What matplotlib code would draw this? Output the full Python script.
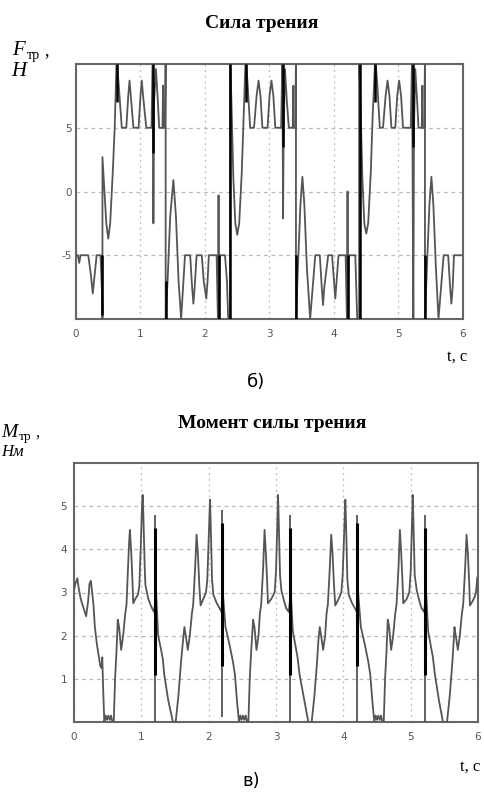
import numpy as np
import matplotlib
matplotlib.use("Agg")
from matplotlib import pyplot as plt

plt.rcParams["axes.unicode_minus"] = False

W, H = 485, 792

# ---- friction force F, N ----
f_t = [0.00, 0.03, 0.05, 0.07, 0.19, 0.23, 0.26, 0.29, 0.32, 0.38, 0.41, 0.41, 0.41,
       0.43, 0.47, 0.50, 0.53, 0.57, 0.60, 0.63, 0.66, 0.71, 0.78, 0.81, 0.83, 0.85,
       0.89, 0.97, 1.00, 1.02, 1.04, 1.09, 1.17, 1.19, 1.20, 1.21, 1.24, 1.27, 1.29,
       1.34, 1.35, 1.35, 1.38, 1.39, 1.39, 1.42, 1.46, 1.51, 1.55, 1.59, 1.63, 1.66,
       1.69, 1.77, 1.80, 1.82, 1.84, 1.87, 1.95, 1.98, 2.02, 2.04, 2.06, 2.18, 2.20,
       2.21, 2.22, 2.23, 2.31, 2.34, 2.36, 2.39, 2.39,
       2.41, 2.44, 2.47, 2.50, 2.53, 2.57, 2.60, 2.63, 2.66, 2.70, 2.76, 2.80, 2.83,
       2.86, 2.89, 2.97, 3.00, 3.03, 3.06, 3.09, 3.18, 3.20, 3.21, 3.22, 3.24, 3.27,
       3.30, 3.36, 3.37, 3.37, 3.40, 3.41, 3.41, 3.44, 3.48, 3.51, 3.54, 3.58, 3.63,
       3.67, 3.71, 3.78, 3.81, 3.83, 3.85, 3.91, 3.97, 4.00, 4.02, 4.04, 4.07, 4.18,
       4.20, 4.21, 4.22, 4.23, 4.33, 4.36, 4.39, 4.39,
       4.41, 4.44, 4.47, 4.50, 4.53, 4.57, 4.60, 4.64, 4.67, 4.71, 4.76, 4.80, 4.83,
       4.86, 4.89, 4.95, 4.98, 5.01, 5.04, 5.07, 5.19, 5.21, 5.23, 5.24, 5.26, 5.29,
       5.31, 5.36, 5.37, 5.37, 5.40, 5.41, 5.41, 5.44, 5.48, 5.51, 5.54, 5.58, 5.62,
       5.66, 5.70, 5.77, 5.80, 5.82, 5.84, 5.86, 5.98]
f_val = [-5.0, -5.0, -5.6, -5.0, -5.0, -6.5, -8.0, -6.5, -5.0, -5.0, -8.9, -10.0, 2.7,
         1.0, -2.5, -3.7, -2.5, 1.5, 5.0, 10.5, 8.5, 5.0, 5.0, 7.5, 8.7, 7.5,
         5.0, 5.0, 7.5, 8.7, 7.5, 5.0, 5.0, 10.5, -2.5, 7.0, 9.6, 7.0, 5.0,
         5.0, 8.3, 5.0, 5.0, 10.5, -10.0, -7.0, -2.0, 0.9, -2.0, -7.0, -10.0, -7.5,
         -5.0, -5.0, -7.5, -8.8, -7.5, -5.0, -5.0, -7.0, -8.4, -7.0, -5.0, -5.0, -10.0,
         -0.3, -10.0, -5.0, -5.0, -7.0, -10.0, -10.0, 10.5,
         7.0, 1.0, -2.5, -3.4, -2.5, 1.5, 6.0, 10.5, 8.5, 5.0, 5.0, 7.5, 8.7,
         7.5, 5.0, 5.0, 7.5, 8.7, 7.5, 5.0, 5.0, 10.5, -2.1, 5.0, 9.6, 7.0,
         5.0, 5.0, 8.3, 5.0, 5.0, 10.5, -10.0, -6.0, -1.0, 1.15, -1.0, -6.0, -10.0,
         -7.5, -5.0, -5.0, -7.5, -8.9, -7.5, -5.0, -5.0, -7.0, -8.4, -7.0, -5.0, -5.0,
         -10.0, 0.0, -10.0, -5.0, -5.0, -10.0, -10.0, 10.5,
         7.0, 1.0, -2.5, -3.3, -2.5, 1.5, 6.0, 10.5, 8.5, 5.0, 5.0, 7.5, 8.7,
         7.5, 5.0, 5.0, 7.5, 8.7, 7.5, 5.0, 5.0, 10.5, -10.0, 5.0, 9.6, 7.0,
         5.0, 5.0, 8.3, 5.0, 5.0, 10.5, -10.0, -6.0, -1.0, 1.15, -1.0, -6.0, -10.0,
         -7.5, -5.0, -5.0, -7.5, -8.8, -7.5, -5.0, -5.0]
# dark "chatter" strokes on the force curve
f_chat_t = [0.40, 0.63, 1.20, 1.39, 2.21, 2.39, 2.63, 3.21, 3.41, 4.21, 4.40, 4.64, 5.23, 5.41]
f_chat_lo = [-9.7, 7.0, 3.0, -10.0, -10.0, -10.0, 7.0, 3.5, -10.0, -10.0, -10.0, 7.0, 3.5, -10.0]
f_chat_hi = [-5.0, 10.0, 10.0, -7.0, -5.0, 10.0, 10.0, 10.0, -5.0, -5.0, 10.0, 10.0, 10.0, -5.0]

# ---- friction moment M, N*m ----
m_t = [0.00, 0.02, 0.05, 0.07, 0.10, 0.15, 0.18, 0.21, 0.23, 0.25, 0.27, 0.29, 0.31,
       0.34, 0.37, 0.39, 0.41, 0.42, 0.43, 0.45, 0.47, 0.49, 0.51, 0.53, 0.55, 0.57,
       0.59, 0.61, 0.63, 0.65, 0.67, 0.70, 0.73, 0.76, 0.78, 0.80, 0.82, 0.83, 0.85,
       0.87, 0.88, 0.91, 0.95, 0.97, 0.99, 1.01, 1.02, 1.03, 1.05, 1.06, 1.10, 1.14,
       1.17, 1.19, 1.22, 1.25, 1.29, 1.32, 1.34, 1.40, 1.47, 1.51, 1.55, 1.59, 1.62,
       1.64, 1.66, 1.69, 1.72, 1.75, 1.77, 1.80, 1.82, 1.84, 1.86, 1.88, 1.92, 1.96,
       1.98, 2.00, 2.02, 2.03, 2.05, 2.07, 2.12, 2.16, 2.19, 2.21, 2.25, 2.31, 2.34,
       2.36, 2.39, 2.42, 2.45, 2.47, 2.49, 2.51, 2.53, 2.55, 2.57, 2.59, 2.61, 2.63,
       2.66, 2.68, 2.71, 2.74, 2.76, 2.78, 2.81, 2.83, 2.85, 2.87, 2.88, 2.93, 2.98,
       3.00, 3.02, 3.03, 3.04, 3.06, 3.08, 3.12, 3.15, 3.19, 3.22, 3.25, 3.29, 3.32,
       3.35, 3.42, 3.48, 3.53, 3.57, 3.61, 3.63, 3.65, 3.67, 3.70, 3.73, 3.75, 3.77,
       3.80, 3.82, 3.84, 3.86, 3.88, 3.93, 3.97, 3.99, 4.01, 4.03, 4.04, 4.06, 4.08,
       4.13, 4.17, 4.20, 4.22, 4.26, 4.32, 4.35, 4.37, 4.40, 4.43, 4.46, 4.48, 4.50,
       4.52, 4.54, 4.56, 4.58, 4.60, 4.62, 4.64, 4.66, 4.68, 4.71, 4.74, 4.77, 4.79,
       4.82, 4.84, 4.86, 4.88, 4.89, 4.94, 4.98, 5.00, 5.02, 5.03, 5.04, 5.06, 5.09,
       5.13, 5.16, 5.20, 5.23, 5.26, 5.30, 5.33, 5.36, 5.42, 5.48, 5.54, 5.58, 5.62,
       5.64, 5.65, 5.67, 5.70, 5.73, 5.76, 5.78, 5.81, 5.83, 5.85, 5.87, 5.88, 5.92,
       5.95, 5.97, 5.99]
m_val = [3.05, 3.2, 3.33, 3.1, 2.85, 2.6, 2.45, 2.8, 3.2, 3.27, 3.0, 2.7, 2.2,
         1.8, 1.5, 1.3, 1.25, 1.5, 0.9, 0.0, 0.15, 0.05, 0.15, 0.05, 0.15, 0.0,
         0.0, 1.0, 1.6, 2.37, 2.2, 1.67, 2.0, 2.5, 2.72, 3.5, 4.2, 4.45, 3.95,
         3.2, 2.75, 2.85, 2.95, 3.15, 4.0, 5.0, 5.26, 4.8, 3.6, 3.18, 2.87, 2.7,
         2.6, 2.55, 3.0, 2.0, 1.7, 1.45, 1.1, 0.5, 0.0, 0.0, 0.6, 1.4, 1.9,
         2.2, 2.0, 1.67, 2.0, 2.5, 2.72, 3.6, 4.34, 3.9, 3.2, 2.7, 2.85, 3.0,
         3.3, 4.2, 5.15, 4.6, 3.3, 2.95, 2.75, 2.64, 2.55, 3.0, 2.2, 1.79, 1.55,
         1.4, 1.1, 0.5, 0.0, 0.15, 0.05, 0.15, 0.05, 0.15, 0.0, 0.0, 1.0, 1.6,
         2.37, 2.2, 1.67, 2.0, 2.5, 2.72, 3.6, 4.45, 3.9, 3.2, 2.75, 2.85, 3.0,
         3.5, 4.6, 5.26, 4.7, 3.4, 3.05, 2.8, 2.64, 2.55, 3.0, 2.1, 1.75, 1.5,
         1.1, 0.5, 0.0, 0.0, 0.6, 1.4, 1.9, 2.2, 2.0, 1.67, 2.0, 2.5, 2.72,
         3.6, 4.34, 3.9, 3.2, 2.7, 2.85, 3.0, 3.4, 4.3, 5.15, 4.6, 3.3, 2.95,
         2.75, 2.64, 2.55, 3.0, 2.2, 1.79, 1.55, 1.4, 1.1, 0.5, 0.0, 0.15, 0.05,
         0.15, 0.05, 0.15, 0.0, 0.0, 1.0, 1.6, 2.37, 2.2, 1.67, 2.0, 2.5, 2.72,
         3.6, 4.45, 3.9, 3.2, 2.75, 2.85, 3.0, 3.5, 4.6, 5.26, 4.7, 3.4, 3.05,
         2.8, 2.64, 2.55, 3.0, 2.1, 1.75, 1.5, 1.1, 0.5, 0.0, 0.0, 0.6, 1.4,
         1.9, 2.2, 2.0, 1.67, 2.0, 2.5, 2.72, 3.6, 4.34, 3.9, 3.2, 2.7, 2.8,
         2.9, 3.0, 3.35]
# thin full drops and thick black chatter on the moment curve
m_drop_t = [1.21, 2.20, 3.21, 4.21, 5.22]
m_drop_lo = [0.0, 0.12, 0.0, 0.0, 0.0]
m_drop_hi = [4.8, 4.9, 4.8, 4.8, 4.8]
m_chat_lo = [1.1, 1.3, 1.1, 1.3, 1.1]
m_chat_hi = [4.5, 4.6, 4.5, 4.6, 4.5]

x_ticks = [0, 1, 2, 3, 4, 5, 6]
f_ticks = [-5, 0, 5]
m_ticks = [1, 2, 3, 4, 5]

line_c = "#555555"
grid_c = "#bbbbbb"
serif = "Liberation Serif"


def fx(px):
    return px / W


def fy(py):
    return 1 - py / H


def style_axes(ax, yticks, ypad, xpad):
    ax.set_xlim(0, 6)
    ax.set_xticks(x_ticks)
    ax.set_yticks(yticks)
    ax.tick_params(length=0, labelsize=7.5, labelcolor="#555555")
    ax.tick_params(axis="y", pad=ypad)
    ax.tick_params(axis="x", pad=xpad)
    ax.xaxis.grid(True, color=grid_c, linestyle=(0, (1.5, 3)), linewidth=0.9)
    ax.yaxis.grid(True, color=grid_c, linestyle=(0, (3, 3)), linewidth=0.9)
    ax.set_axisbelow(True)
    for s in ax.spines.values():
        s.set_color("#666666")
        s.set_linewidth(1.5)


fig = plt.figure(figsize=(4.85, 7.92), dpi=100)

# top: force
ax1 = fig.add_axes([fx(76), fy(319), fx(463) - fx(76), fy(64) - fy(319)])
ax1.plot(f_t, f_val, color=line_c, linewidth=1.3, zorder=3)
ax1.vlines(f_chat_t, f_chat_lo, f_chat_hi, color="black", linewidth=1.8, zorder=4)
ax1.set_ylim(-10, 10)
style_axes(ax1, f_ticks, 3, 7)

# bottom: moment
ax2 = fig.add_axes([fx(74), fy(722), fx(478) - fx(74), fy(463) - fy(722)])
ax2.plot(m_t, m_val, color=line_c, linewidth=1.3, zorder=3)
ax2.vlines(m_drop_t, m_drop_lo, m_drop_hi, color=line_c, linewidth=1.3, zorder=3)
ax2.vlines(m_drop_t, m_chat_lo, m_chat_hi, color="black", linewidth=2.2, zorder=4)
ax2.set_ylim(0, 6)
style_axes(ax2, m_ticks, 5, 7)

# titles and labels
fig.text(fx(262), fy(23), "Сила трения", family=serif, weight="bold",
         size=14, ha="center", va="center")
fig.text(fx(272), fy(423), "Момент силы трения", family=serif, weight="bold",
         size=14, ha="center", va="center")

fig.text(fx(12), fy(55), "F", family=serif, style="italic", size=15, va="baseline")
fig.text(fx(27), fy(59), "тр", family=serif, size=10, va="baseline")
fig.text(fx(44), fy(55), ",", family=serif, size=13, va="baseline")
fig.text(fx(11), fy(76), "Н", family=serif, style="italic", size=15, va="baseline")

fig.text(fx(1), fy(437), "M", family=serif, style="italic", size=14, va="baseline")
fig.text(fx(19), fy(440), "тр", family=serif, size=9.5, va="baseline")
fig.text(fx(35), fy(437), ",", family=serif, size=12, va="baseline")
fig.text(fx(1), fy(456), "Нм", family=serif, style="italic", size=12, va="baseline")

fig.text(fx(457), fy(357), "t, c", family=serif, size=12, ha="center", va="center")
fig.text(fx(470), fy(767), "t, c", family=serif, size=12, ha="center", va="center")
fig.text(fx(256), fy(382), "б)", size=13, ha="center", va="center")
fig.text(fx(251), fy(781), "в)", size=13, ha="center", va="center")

fig.savefig("out.png", dpi=100)
